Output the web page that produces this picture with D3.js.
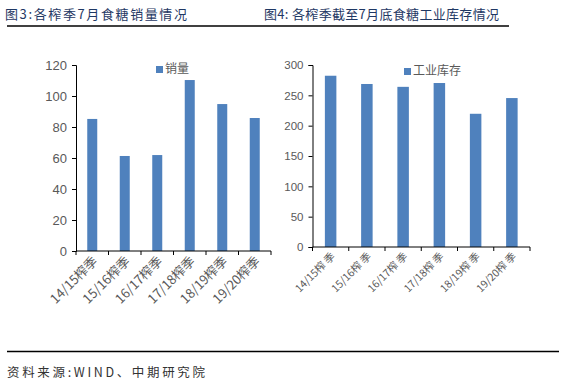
<!DOCTYPE html>
<meta charset="utf-8">
<head>
    <script type="text/javascript" src="https://d3js.org/d3.v7.min.js"></script>
    <style>
        body { margin: 0; background: #fff; }
        text { font-family: "Noto Sans CJK SC", "Liberation Sans", sans-serif; }
    </style>
    <title>食糖销量与工业库存</title>
</head>
<body>
<script type="text/javascript">

    // data
    var seasons = ["14/15榨季", "15/16榨季", "16/17榨季", "17/18榨季", "18/19榨季", "19/20榨季"];
    var sales = [85.2, 61.3, 61.9, 110.3, 94.8, 85.8];
    var stock = [282.3, 268.7, 264, 270.3, 219.6, 245.5];
    var salesTicks = [0, 20, 40, 60, 80, 100, 120];
    var stockTicks = [0, 50, 100, 150, 200, 250, 300];

    var w = 575, h = 387;
    var barColor = "#4f81bd";

    var svg = d3.select("body").append("svg")
        .attr("width", w).attr("height", h);

    // titles and rules
    svg.append("text").attr("x", 5).attr("y", 19)
        .attr("font-size", 13).attr("fill", "#1f3864")
        .attr("textLength", 182).attr("lengthAdjust", "spacing")
        .text("图3:各榨季7月食糖销量情况");
    svg.append("text").attr("x", 264).attr("y", 19)
        .attr("font-size", 13).attr("fill", "#1f3864")
        .attr("textLength", 235).attr("lengthAdjust", "spacing")
        .text("图4: 各榨季截至7月底食糖工业库存情况");
    svg.append("line").attr("x1", 7).attr("x2", 509).attr("y1", 26).attr("y2", 26)
        .attr("stroke", "#000").attr("stroke-width", 1.6);
    svg.append("line").attr("x1", 7).attr("x2", 559).attr("y1", 351.5).attr("y2", 351.5)
        .attr("stroke", "#000").attr("stroke-width", 1.4);
    svg.append("text").attr("x", 7).attr("y", 377)
        .attr("font-size", 12.5).attr("fill", "#333")
        .attr("textLength", 198).attr("lengthAdjust", "spacing")
        .text("资料来源:WIND、中期研究院");

    function drawChart(opt) {
        var x = d3.scaleBand().domain(opt.cats).range([opt.x0, opt.x1]);
        var y = d3.scaleLinear().domain([0, opt.max]).range([opt.y0, opt.y1]);
        var g = svg.append("g");

        // y axis
        var yAxis = d3.axisLeft(y).tickValues(opt.ticks).tickSize(4).tickPadding(5);
        var ga = g.append("g").attr("transform", "translate(" + opt.x0 + ",0)").call(yAxis);
        ga.select(".domain").attr("stroke", "#000");
        ga.selectAll(".tick line").attr("stroke", "#000");
        ga.selectAll("text").attr("font-size", opt.yFont).attr("fill", "#595959")
            .style("font-family", "'Liberation Sans', sans-serif");

        // bars
        g.selectAll("rect.bar").data(opt.values).enter().append("rect")
            .attr("class", "bar")
            .attr("x", function(d, i) { return x(opt.cats[i]) + (x.bandwidth() - opt.barW) / 2; })
            .attr("width", opt.barW)
            .attr("y", function(d) { return y(d); })
            .attr("height", function(d) { return opt.y0 - y(d); })
            .attr("fill", barColor);

        // x axis line and ticks between categories
        g.append("line").attr("x1", opt.x0).attr("x2", opt.x1)
            .attr("y1", opt.y0).attr("y2", opt.y0).attr("stroke", "#000");
        var bounds = opt.cats.map(function(c) { return x(c); }).concat([opt.x1]);
        g.selectAll("line.xt").data(bounds).enter().append("line")
            .attr("x1", function(d) { return d; }).attr("x2", function(d) { return d; })
            .attr("y1", opt.y0).attr("y2", opt.y0 + 4).attr("stroke", "#000");

        // rotated labels
        g.selectAll("text.xl").data(opt.labels).enter().append("text")
            .attr("text-anchor", "end")
            .attr("font-size", opt.xFont).attr("fill", "#595959")
            .attr("transform", function(d, i) {
                var cx = x(opt.cats[i]) + x.bandwidth() / 2 + opt.lblDx;
                return "translate(" + cx + "," + (opt.y0 + opt.lblDy) + ") rotate(-45)";
            })
            .text(function(d) { return d; });

        // legend
        g.append("rect").attr("x", opt.legX).attr("y", opt.legY).attr("width", 7).attr("height", 7)
            .attr("fill", barColor);
        g.append("text").attr("x", opt.legX + 9).attr("y", opt.legY + 7)
            .attr("font-size", 12).attr("fill", "#595959").text(opt.name);
    }

    drawChart({
        cats: seasons, labels: seasons, values: sales, ticks: salesTicks, max: 120,
        x0: 76, x1: 271, y0: 251, y1: 65, barW: 10, yFont: 13, xFont: 13,
        lblDx: 6, lblDy: 11, legX: 156, legY: 66, name: "销量"
    });

    drawChart({
        cats: seasons, labels: seasons.map(function(s) { return s.replace("榨季", "榨 季"); }),
        values: stock, ticks: stockTicks, max: 300,
        x0: 312.5, x1: 530, y0: 247, y1: 65, barW: 11.5, yFont: 11.5, xFont: 10.5,
        lblDx: 5, lblDy: 10, legX: 404, legY: 68, name: "工业库存"
    });

</script>
</body>
</html>
